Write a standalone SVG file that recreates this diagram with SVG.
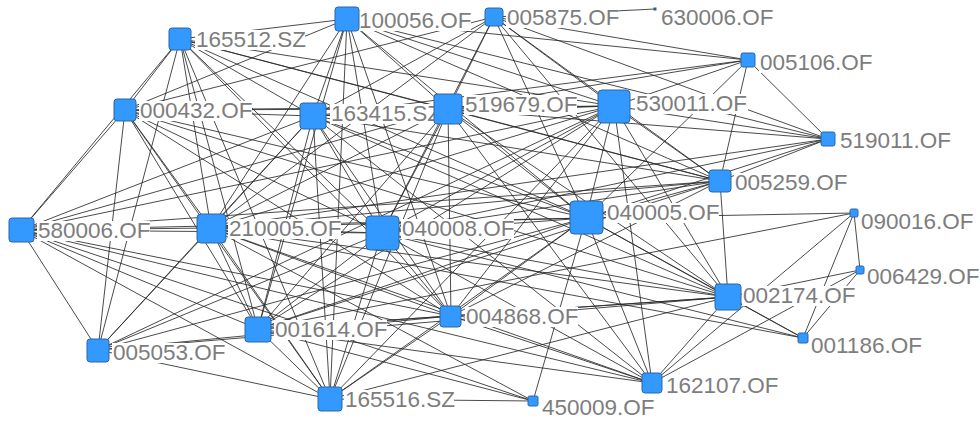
<svg xmlns="http://www.w3.org/2000/svg" width="980" height="421" viewBox="0 0 980 421">
<style>
.e line{stroke:#2b2b2b;stroke-width:0.85}
.n{fill:#3399ff;stroke:#2a67aa;stroke-width:1}
.bg{fill:#fff}
.t{font-family:"Liberation Sans",Arial,sans-serif;font-size:22.5px;fill:#7d7d7d}
</style>
<rect width="980" height="421" fill="#fff"/>
<g id="edges" class="e">
<line x1="180" y1="39" x2="125" y2="110"/><line x1="180" y1="39" x2="21" y2="230"/><line x1="180" y1="39" x2="347" y2="19"/><line x1="180" y1="39" x2="313" y2="116"/><line x1="180" y1="39" x2="448" y2="109"/><line x1="180" y1="39" x2="614" y2="106"/><line x1="180" y1="39" x2="211" y2="228"/><line x1="180" y1="39" x2="382" y2="233"/><line x1="180" y1="39" x2="586" y2="218"/><line x1="180" y1="39" x2="258" y2="329"/><line x1="180" y1="39" x2="451" y2="316"/><line x1="180" y1="39" x2="720" y2="181"/><line x1="180" y1="39" x2="98" y2="350"/><line x1="180" y1="39" x2="330" y2="399"/>
<line x1="347" y1="19" x2="125" y2="110"/><line x1="347" y1="19" x2="313" y2="116"/><line x1="347" y1="19" x2="448" y2="109"/><line x1="347" y1="19" x2="614" y2="106"/><line x1="347" y1="19" x2="720" y2="181"/><line x1="347" y1="19" x2="748" y2="60"/><line x1="347" y1="19" x2="211" y2="228"/><line x1="347" y1="19" x2="382" y2="233"/><line x1="347" y1="19" x2="586" y2="218"/><line x1="347" y1="19" x2="258" y2="329"/><line x1="347" y1="19" x2="451" y2="316"/><line x1="347" y1="19" x2="828" y2="139"/><line x1="347" y1="19" x2="330" y2="399"/>
<line x1="494" y1="17" x2="655" y2="9"/><line x1="494" y1="17" x2="748" y2="60"/><line x1="494" y1="17" x2="828" y2="139"/><line x1="494" y1="17" x2="125" y2="110"/><line x1="494" y1="17" x2="313" y2="116"/><line x1="494" y1="17" x2="448" y2="109"/><line x1="494" y1="17" x2="614" y2="106"/><line x1="494" y1="17" x2="720" y2="181"/><line x1="494" y1="17" x2="211" y2="228"/><line x1="494" y1="17" x2="382" y2="233"/><line x1="494" y1="17" x2="586" y2="218"/><line x1="494" y1="17" x2="728" y2="297"/>
<line x1="125" y1="110" x2="21" y2="230"/><line x1="125" y1="110" x2="313" y2="116"/><line x1="125" y1="110" x2="211" y2="228"/><line x1="125" y1="110" x2="382" y2="233"/><line x1="125" y1="110" x2="586" y2="218"/><line x1="125" y1="110" x2="258" y2="329"/><line x1="125" y1="110" x2="98" y2="350"/><line x1="125" y1="110" x2="451" y2="316"/><line x1="125" y1="110" x2="448" y2="109"/><line x1="125" y1="110" x2="614" y2="106"/><line x1="125" y1="110" x2="330" y2="399"/><line x1="125" y1="110" x2="728" y2="297"/>
<line x1="21" y1="230" x2="313" y2="116"/><line x1="21" y1="230" x2="448" y2="109"/><line x1="21" y1="230" x2="614" y2="106"/><line x1="21" y1="230" x2="720" y2="181"/><line x1="21" y1="230" x2="211" y2="228"/><line x1="21" y1="230" x2="382" y2="233"/><line x1="21" y1="230" x2="586" y2="218"/><line x1="21" y1="230" x2="451" y2="316"/><line x1="21" y1="230" x2="258" y2="329"/><line x1="21" y1="230" x2="98" y2="350"/><line x1="21" y1="230" x2="330" y2="399"/><line x1="21" y1="230" x2="652" y2="383"/><line x1="21" y1="230" x2="533" y2="401"/>
<line x1="313" y1="116" x2="448" y2="109"/><line x1="313" y1="116" x2="614" y2="106"/><line x1="313" y1="116" x2="720" y2="181"/><line x1="313" y1="116" x2="748" y2="60"/><line x1="313" y1="116" x2="211" y2="228"/><line x1="313" y1="116" x2="382" y2="233"/><line x1="313" y1="116" x2="586" y2="218"/><line x1="313" y1="116" x2="728" y2="297"/><line x1="313" y1="116" x2="451" y2="316"/><line x1="313" y1="116" x2="258" y2="329"/><line x1="313" y1="116" x2="98" y2="350"/><line x1="313" y1="116" x2="330" y2="399"/><line x1="313" y1="116" x2="652" y2="383"/>
<line x1="448" y1="109" x2="614" y2="106"/><line x1="448" y1="109" x2="748" y2="60"/><line x1="448" y1="109" x2="720" y2="181"/><line x1="448" y1="109" x2="828" y2="139"/><line x1="448" y1="109" x2="211" y2="228"/><line x1="448" y1="109" x2="382" y2="233"/><line x1="448" y1="109" x2="586" y2="218"/><line x1="448" y1="109" x2="728" y2="297"/><line x1="448" y1="109" x2="451" y2="316"/><line x1="448" y1="109" x2="258" y2="329"/><line x1="448" y1="109" x2="330" y2="399"/><line x1="448" y1="109" x2="652" y2="383"/>
<line x1="614" y1="106" x2="748" y2="60"/><line x1="614" y1="106" x2="828" y2="139"/><line x1="614" y1="106" x2="720" y2="181"/><line x1="614" y1="106" x2="211" y2="228"/><line x1="614" y1="106" x2="382" y2="233"/><line x1="614" y1="106" x2="586" y2="218"/><line x1="614" y1="106" x2="728" y2="297"/><line x1="614" y1="106" x2="451" y2="316"/><line x1="614" y1="106" x2="258" y2="329"/><line x1="614" y1="106" x2="98" y2="350"/><line x1="614" y1="106" x2="330" y2="399"/><line x1="614" y1="106" x2="652" y2="383"/>
<line x1="720" y1="181" x2="748" y2="60"/><line x1="720" y1="181" x2="828" y2="139"/><line x1="720" y1="181" x2="211" y2="228"/><line x1="720" y1="181" x2="382" y2="233"/><line x1="720" y1="181" x2="586" y2="218"/><line x1="720" y1="181" x2="728" y2="297"/><line x1="720" y1="181" x2="451" y2="316"/><line x1="720" y1="181" x2="258" y2="329"/>
<line x1="748" y1="60" x2="828" y2="139"/><line x1="748" y1="60" x2="586" y2="218"/>
<line x1="828" y1="139" x2="382" y2="233"/><line x1="828" y1="139" x2="586" y2="218"/><line x1="828" y1="139" x2="211" y2="228"/>
<line x1="211" y1="228" x2="382" y2="233"/><line x1="211" y1="228" x2="586" y2="218"/><line x1="211" y1="228" x2="728" y2="297"/><line x1="211" y1="228" x2="451" y2="316"/><line x1="211" y1="228" x2="258" y2="329"/><line x1="211" y1="228" x2="98" y2="350"/><line x1="211" y1="228" x2="330" y2="399"/><line x1="211" y1="228" x2="533" y2="401"/><line x1="211" y1="228" x2="652" y2="383"/><line x1="211" y1="228" x2="803" y2="338"/>
<line x1="382" y1="233" x2="586" y2="218"/><line x1="382" y1="233" x2="728" y2="297"/><line x1="382" y1="233" x2="451" y2="316"/><line x1="382" y1="233" x2="258" y2="329"/><line x1="382" y1="233" x2="98" y2="350"/><line x1="382" y1="233" x2="330" y2="399"/><line x1="382" y1="233" x2="652" y2="383"/><line x1="382" y1="233" x2="803" y2="338"/>
<line x1="586" y1="218" x2="728" y2="297"/><line x1="586" y1="218" x2="451" y2="316"/><line x1="586" y1="218" x2="258" y2="329"/><line x1="586" y1="218" x2="98" y2="350"/><line x1="586" y1="218" x2="330" y2="399"/><line x1="586" y1="218" x2="533" y2="401"/><line x1="586" y1="218" x2="652" y2="383"/><line x1="586" y1="218" x2="854" y2="213"/><line x1="586" y1="218" x2="803" y2="338"/>
<line x1="854" y1="213" x2="860" y2="270"/><line x1="854" y1="213" x2="803" y2="338"/><line x1="854" y1="213" x2="652" y2="383"/><line x1="854" y1="213" x2="258" y2="329"/>
<line x1="860" y1="270" x2="728" y2="297"/><line x1="860" y1="270" x2="803" y2="338"/><line x1="860" y1="270" x2="652" y2="383"/>
<line x1="728" y1="297" x2="451" y2="316"/><line x1="728" y1="297" x2="258" y2="329"/><line x1="728" y1="297" x2="98" y2="350"/><line x1="728" y1="297" x2="330" y2="399"/><line x1="728" y1="297" x2="652" y2="383"/><line x1="728" y1="297" x2="803" y2="338"/>
<line x1="451" y1="316" x2="258" y2="329"/><line x1="451" y1="316" x2="98" y2="350"/><line x1="451" y1="316" x2="330" y2="399"/><line x1="451" y1="316" x2="652" y2="383"/>
<line x1="258" y1="329" x2="330" y2="399"/><line x1="258" y1="329" x2="533" y2="401"/><line x1="258" y1="329" x2="652" y2="383"/>
<line x1="98" y1="350" x2="330" y2="399"/><line x1="330" y1="399" x2="533" y2="401"/>
</g>
<g id="n165512"><rect class="bg" x="195" y="30" width="110" height="20"/><rect class="n" x="169" y="28" width="22" height="22" rx="3"/><text class="t" x="196" y="47">165512.SZ</text></g>
<g id="n100056"><rect class="bg" x="358" y="11" width="113" height="20"/><rect class="n" x="335" y="7" width="24" height="24" rx="3"/><text class="t" x="359" y="28">100056.OF</text></g>
<g id="n005875"><rect class="bg" x="506" y="8" width="113" height="20"/><rect class="n" x="485" y="8" width="18" height="18" rx="3"/><text class="t" x="507" y="25">005875.OF</text></g>
<g id="n630006"><rect class="bg" x="660" y="8" width="113" height="20"/><rect x="653.5" y="7.5" width="3" height="3" fill="#2d5e9a"/><text class="t" x="661" y="25">630006.OF</text></g>
<g id="n005106"><rect class="bg" x="759" y="53" width="113" height="20"/><rect class="n" x="741" y="53" width="14" height="14" rx="2"/><text class="t" x="760" y="70">005106.OF</text></g>
<g id="n519011"><rect class="bg" x="839" y="131" width="113" height="20"/><rect class="n" x="821" y="132" width="14" height="14" rx="2"/><text class="t" x="840" y="148">519011.OF</text></g>
<g id="n000432"><rect class="bg" x="139" y="101" width="113" height="20"/><rect class="n" x="114" y="99" width="22" height="22" rx="3"/><text class="t" x="140" y="118">000432.OF</text></g>
<g id="n163415"><rect class="bg" x="330" y="104" width="108" height="20"/><rect class="n" x="300" y="103" width="26" height="26" rx="3"/><text class="t" x="331" y="121">163415.SZ</text></g>
<g id="n519679"><rect class="bg" x="464" y="95" width="113" height="20"/><rect class="n" x="434" y="94" width="28" height="30" rx="3"/><text class="t" x="465" y="112">519679.OF</text></g>
<g id="n530011"><rect class="bg" x="635" y="94" width="113" height="20"/><rect class="n" x="598" y="90" width="32" height="33" rx="4"/><text class="t" x="636" y="111">530011.OF</text></g>
<g id="n005259"><rect class="bg" x="734" y="173" width="113" height="20"/><rect class="n" x="709" y="170" width="22" height="22" rx="3"/><text class="t" x="735" y="190">005259.OF</text></g>
<g id="n580006"><rect class="bg" x="37" y="221" width="113" height="20"/><rect class="n" x="9" y="218" width="25" height="24" rx="3"/><text class="t" x="38" y="238">580006.OF</text></g>
<g id="n210005"><rect class="bg" x="228" y="219" width="113" height="20"/><rect class="n" x="197" y="214" width="29" height="29" rx="4"/><text class="t" x="229" y="236">210005.OF</text></g>
<g id="n040008"><rect class="bg" x="401" y="219" width="113" height="20"/><rect class="n" x="366" y="216" width="33" height="34" rx="4"/><text class="t" x="402" y="236">040008.OF</text></g>
<g id="n040005"><rect class="bg" x="606" y="203" width="113" height="20"/><rect class="n" x="570" y="201" width="33" height="33" rx="4"/><text class="t" x="607" y="220">040005.OF</text></g>
<g id="n090016"><rect class="bg" x="860" y="212" width="113" height="20"/><rect class="n" x="850" y="209" width="8" height="8" rx="1.5"/><text class="t" x="861" y="229">090016.OF</text></g>
<g id="n006429"><rect class="bg" x="866" y="267" width="113" height="20"/><rect class="n" x="856" y="266" width="8" height="8" rx="1.5"/><text class="t" x="867" y="284">006429.OF</text></g>
<g id="n002174"><rect class="bg" x="742" y="286" width="113" height="20"/><rect class="n" x="715" y="284" width="26" height="26" rx="3"/><text class="t" x="743" y="303">002174.OF</text></g>
<g id="n001186"><rect class="bg" x="810" y="336" width="113" height="20"/><rect class="n" x="798" y="333" width="10" height="10" rx="1.5"/><text class="t" x="811" y="353">001186.OF</text></g>
<g id="n004868"><rect class="bg" x="465" y="307" width="113" height="20"/><rect class="n" x="440" y="306" width="21" height="21" rx="3"/><text class="t" x="466" y="324">004868.OF</text></g>
<g id="n001614"><rect class="bg" x="274" y="320" width="113" height="20"/><rect class="n" x="245" y="317" width="26" height="25" rx="3"/><text class="t" x="275" y="337">001614.OF</text></g>
<g id="n005053"><rect class="bg" x="112" y="343" width="113" height="20"/><rect class="n" x="87" y="339" width="22" height="23" rx="3"/><text class="t" x="113" y="360">005053.OF</text></g>
<g id="n165516"><rect class="bg" x="344" y="390" width="110" height="20"/><rect class="n" x="318" y="387" width="24" height="24" rx="3"/><text class="t" x="345" y="407">165516.SZ</text></g>
<g id="n450009"><rect class="bg" x="541" y="398" width="113" height="20"/><rect class="n" x="528" y="396" width="10" height="10" rx="1.5"/><text class="t" x="542" y="415">450009.OF</text></g>
<g id="n162107"><rect class="bg" x="665" y="376" width="113" height="20"/><rect class="n" x="642" y="373" width="20" height="20" rx="3"/><text class="t" x="666" y="393">162107.OF</text></g>
</svg>
